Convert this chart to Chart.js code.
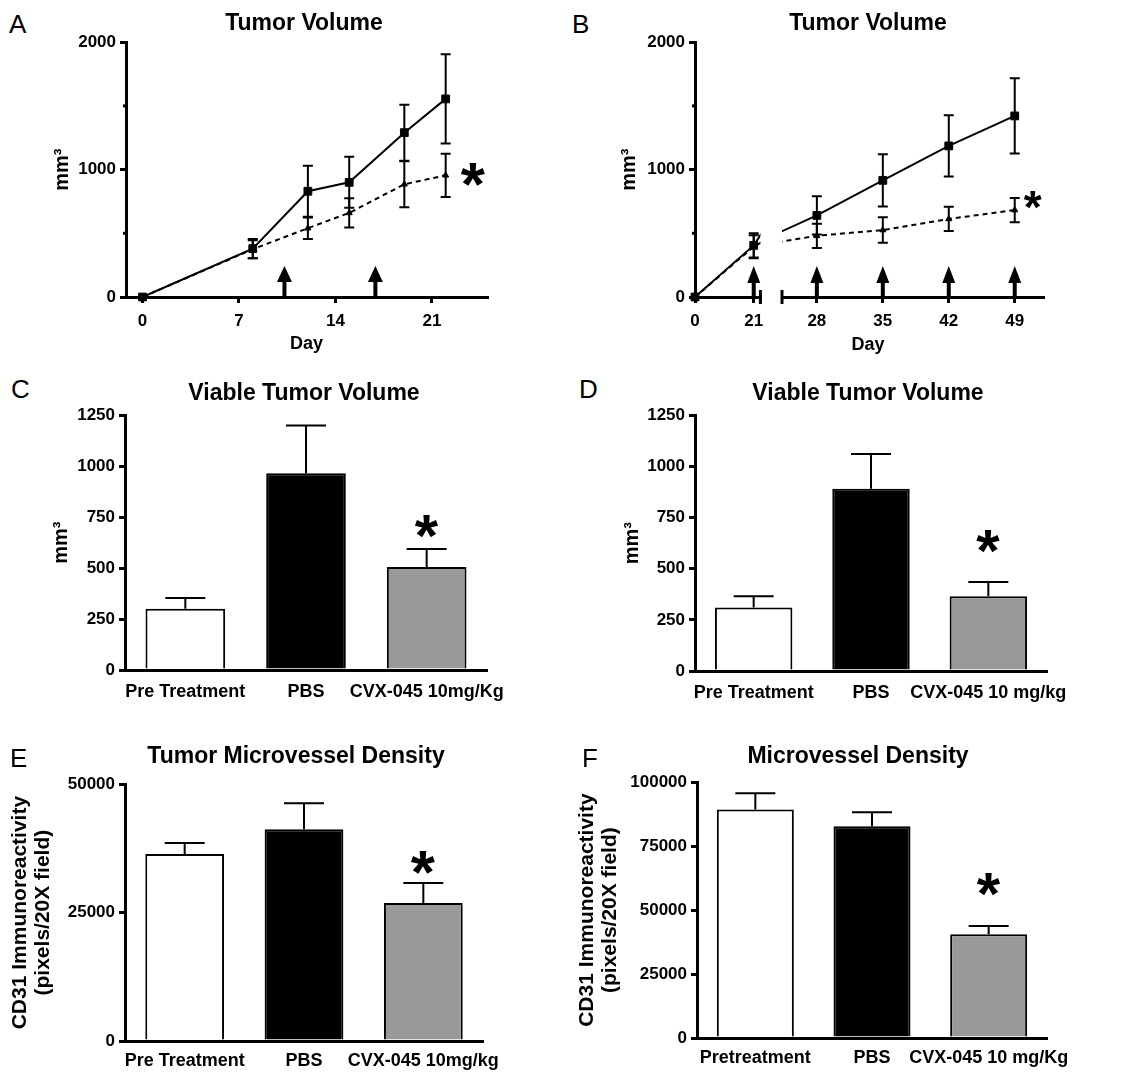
<!DOCTYPE html>
<html><head><meta charset="utf-8">
<script src="https://cdn.jsdelivr.net/npm/chart.js@4.4.0/dist/chart.umd.min.js"></script>
<style>
html,body{margin:0;padding:0;background:#fff;}
body{width:1135px;height:1074px;position:relative;overflow:hidden;font-family:'Liberation Sans',Arial,Helvetica,sans-serif;color:#000;}
canvas{position:absolute;}
.lbl{position:absolute;white-space:nowrap;line-height:1;color:#000;}
</style></head><body>
<script>
// ---------- Panel A : tumor volume ----------
const daysA = [0, 8, 12, 15, 19, 22];
const pbsA = [0, 380, 830, 900, 1290, 1555];
const pbsErrA = [0, 75, 200, 200, 220, 350];
const cvxA = [0, 375, 540, 660, 885, 955];
const cvxErrA = [0, 70, 85, 115, 180, 170];
const doseDaysA = [10.3, 16.9];
const xTicksA = [0, 7, 14, 21];
const starA = {x: 24, y: 965};
// ---------- Panel B : tumor volume (broken axis) ----------
const daysB = [0, 21, 28, 35, 42, 49];
const pbsB = [0, 405, 640, 915, 1185, 1420];
const pbsErrB = [0, 95, 150, 205, 240, 295];
const cvxB = [0, 395, 480, 525, 612, 682];
const cvxErrB = [0, 90, 95, 100, 95, 95];
const doseDaysB = [21, 28, 35, 42, 49];
const xTicksB1 = [0, 21];
const xTicksB2 = [28, 35, 42, 49];
const starB = {x: 50.9, y: 760};
// ---------- Panel C ----------
const groupsC = ['Pre Treatment', 'PBS', 'CVX-045 10mg/Kg'];
const valuesC = [300, 965, 505];
const errC = [53, 235, 88];
const starC = {x: 2, y: 706};
// ---------- Panel D ----------
const groupsD = ['Pre Treatment', 'PBS', 'CVX-045 10 mg/kg'];
const valuesD = [310, 890, 365];
const errD = [55, 170, 70];
const starD = {x: 2, y: 635};
// ---------- Panel E ----------
const groupsE = ['Pre Treatment', 'PBS', 'CVX-045 10mg/kg'];
const valuesE = [36400, 41250, 26850];
const errE = [2150, 5050, 3900];
const starE = {x: 2, y: 34800};
// ---------- Panel F ----------
const groupsF = ['Pretreatment', 'PBS', 'CVX-045 10 mg/Kg'];
const valuesF = [89300, 82800, 40600];
const errF = [6400, 5500, 3150];
const starF = {x: 2, y: 60200};

const barColors = ['#ffffff', '#000000', '#999999'];
const FONT = "'Liberation Sans', Arial, Helvetica, sans-serif";
Chart.defaults.font.family = FONT;
Chart.defaults.color = '#000';

// decoration plugin: error bars, dosing arrows, significance stars, minor ticks, axis break
const deco = {
  id: 'deco',
  afterDatasetsDraw(chart, args, o) {
    const ctx = chart.ctx, xs = chart.scales.x, ys = chart.scales.y, ca = chart.chartArea;
    ctx.save();
    ctx.strokeStyle = '#000'; ctx.fillStyle = '#000';
    if (o.errorBars) {
      ctx.lineWidth = 2;
      chart.data.datasets.forEach((ds, di) => {
        if (!ds.errors) return;
        const meta = chart.getDatasetMeta(di);
        ds.data.forEach((raw, i) => {
          const e = ds.errors[i]; if (!e) return;
          const isObj = typeof raw === 'object';
          const v = isObj ? raw.y : raw;
          if (isObj && (raw.x < xs.min || raw.x > xs.max)) return;
          const x = isObj ? xs.getPixelForValue(raw.x) : meta.data[i].x;
          const yHi = ys.getPixelForValue(v + e);
          const yLo = o.errorBars.upOnly ? ys.getPixelForValue(v) : ys.getPixelForValue(Math.max(v - e, 0));
          const c = o.errorBars.cap;
          ctx.beginPath();
          ctx.moveTo(x, yLo); ctx.lineTo(x, yHi);
          ctx.moveTo(x - c, yHi); ctx.lineTo(x + c, yHi);
          if (!o.errorBars.upOnly) { ctx.moveTo(x - c, yLo); ctx.lineTo(x + c, yLo); }
          ctx.stroke();
        });
      });
    }
    if (o.arrows) {
      const base = ys.getPixelForValue(0);
      const a = o.arrows;
      a.days.forEach(d => {
        if (d < xs.min || d > xs.max) return;
        const x = xs.getPixelForValue(d);
        ctx.fillRect(x - a.shaft / 2, base - (a.length - a.head) - 1, a.shaft, a.length - a.head + 1);
        ctx.beginPath();
        ctx.moveTo(x, base - a.length);
        ctx.lineTo(x - a.half, base - a.length + a.head);
        ctx.lineTo(x + a.half, base - a.length + a.head);
        ctx.closePath(); ctx.fill();
      });
    }
    if (o.minorTicks) {
      ctx.lineWidth = 3;
      o.minorTicks.forEach(v => {
        const y = ys.getPixelForValue(v);
        ctx.beginPath(); ctx.moveTo(ca.left - 3, y); ctx.lineTo(ca.left, y); ctx.stroke();
      });
    }
    if (o.axisBreak) {
      const x = o.axisBreak === 'right' ? ca.right : ca.left;
      ctx.lineWidth = 3;
      ctx.beginPath(); ctx.moveTo(x, ca.bottom - 7); ctx.lineTo(x, ca.bottom + 7); ctx.stroke();
    }
    if (o.star) {
      const s = o.star;
      ctx.font = 'bold ' + s.size + 'px ' + FONT;
      ctx.textAlign = 'left'; ctx.textBaseline = 'alphabetic';
      const m = ctx.measureText('*');
      const cx = xs.getPixelForValue(s.x), cy = ys.getPixelForValue(s.y);
      const x0 = cx - (m.actualBoundingBoxRight - m.actualBoundingBoxLeft) / 2;
      const y0 = cy + (m.actualBoundingBoxAscent - m.actualBoundingBoxDescent) / 2;
      ctx.fillText('*', x0, y0);
    }
    ctx.restore();
  }
};
Chart.register(deco);

function makeChart(box, plot, config, hideY) {
  const c = document.createElement('canvas');
  const w = box.right - box.left, h = box.bottom - box.top;
  c.width = w; c.height = h;
  c.style.left = box.left + 'px'; c.style.top = box.top + 'px';
  c.style.width = w + 'px'; c.style.height = h + 'px';
  document.body.appendChild(c);
  const o = config.options;
  o.responsive = false; o.animation = false; o.events = []; o.devicePixelRatio = 1;
  o.layout = {padding: {top: plot.top - box.top, right: box.right - plot.right, bottom: 0, left: hideY ? plot.left - box.left : 0}};
  o.scales.x.afterFit = s => { s.height = box.bottom - plot.bottom; };
  if (!hideY) o.scales.y.afterFit = s => { s.width = plot.left - box.left; };
  o.plugins = Object.assign({legend: {display: false}, tooltip: {enabled: false}}, o.plugins);
  return new Chart(c, config);
}

function border() { return {display: true, color: '#000', width: 3}; }

function yAxis(min, max, step, title, titleSize, lh) {
  return {
    min: min, max: max, z: 1,
    border: border(),
    grid: {drawOnChartArea: false, drawTicks: true, tickLength: 6, color: '#000', lineWidth: 3},
    ticks: {stepSize: step, padding: 4, color: '#000', font: {size: 17, weight: 'bold'}, callback: v => String(v)},
    title: {display: !!title, text: title, color: '#000', font: {size: titleSize, weight: 'bold', lineHeight: lh}, padding: 0}
  };
}
function xLinear(min, max, ticks, title) {
  return {
    type: 'linear', min: min, max: max, z: 1,
    border: border(),
    grid: {drawOnChartArea: false, drawTicks: true, tickLength: 6, color: '#000', lineWidth: 3},
    ticks: {padding: 8, color: '#000', font: {size: 17, weight: 'bold'}, callback: v => String(v), maxRotation: 0},
    afterBuildTicks: s => { s.ticks = ticks.map(v => ({value: v})); },
    title: {display: !!title, text: title || '', color: '#000', font: {size: 18, weight: 'bold'}, padding: 0}
  };
}
function xCat(pad) {
  return {
    z: 1, border: border(), grid: {display: false, drawTicks: false, tickLength: 0},
    ticks: {padding: pad, color: '#000', font: {size: 18, weight: 'bold'}, maxRotation: 0, minRotation: 0, autoSkip: false}
  };
}
function lineSet(days, vals, errs, dashed, clip) {
  return {
    data: days.map((d, i) => ({x: d, y: vals[i]})),
    errors: errs,
    borderColor: '#000', backgroundColor: '#000', borderWidth: 2,
    borderDash: dashed ? [5, 4] : [],
    pointStyle: dashed ? 'triangle' : 'rect',
    pointRadius: dashed ? 3.5 : 5.5,
    pointBackgroundColor: '#000', pointBorderColor: '#000', pointBorderWidth: 1,
    tension: 0, clip: clip
  };
}
function barSet(vals, errs) {
  return {
    data: vals, errors: errs,
    backgroundColor: barColors, borderColor: '#000', borderWidth: 2,
    barPercentage: 0.66, categoryPercentage: 1
  };
}

// Panel A
makeChart({left: 50, top: 28, right: 537, bottom: 355}, {left: 126, top: 42, right: 487, bottom: 297}, {
  type: 'line',
  data: {datasets: [lineSet(daysA, pbsA, pbsErrA, false, false), lineSet(daysA, cvxA, cvxErrA, true, false)]},
  options: {
    plugins: {deco: {errorBars: {cap: 5}, arrows: {days: doseDaysA, shaft: 4, head: 16, half: 7.5, length: 31}, minorTicks: [500, 1500], star: {x: starA.x, y: starA.y, size: 62}}},
    scales: {x: xLinear(-1.2, 25, xTicksA, 'Day'), y: yAxis(0, 2000, 1000, 'mm³', 20, 1.2)}
  }
});

// Panel B (left segment)
makeChart({left: 617, top: 28, right: 772, bottom: 337}, {left: 695, top: 42, right: 764, bottom: 297}, {
  type: 'line',
  data: {datasets: [lineSet(daysB, pbsB, pbsErrB, false, {left: 10, top: 0, right: 0, bottom: 10}), lineSet(daysB, cvxB, cvxErrB, true, {left: 10, top: 0, right: 0, bottom: 10})]},
  options: {
    plugins: {deco: {errorBars: {cap: 5}, arrows: {days: doseDaysB, shaft: 4, head: 17, half: 6.5, length: 31}, minorTicks: [500, 1500], axisBreak: 'right'}},
    scales: {x: xLinear(0, 23.4, xTicksB1, ''), y: yAxis(0, 2000, 1000, 'mm³', 20, 1.2)}
  }
});
// Panel B (right segment)
const yB2 = yAxis(0, 2000, 1000, '', 20, 1.2); yB2.display = false;
makeChart({left: 772, top: 28, right: 1090, bottom: 337}, {left: 782, top: 42, right: 1043, bottom: 297}, {
  type: 'line',
  data: {datasets: [lineSet(daysB, pbsB, pbsErrB, false, {left: 0, top: 0, right: 10, bottom: 0}), lineSet(daysB, cvxB, cvxErrB, true, {left: 0, top: 0, right: 10, bottom: 0})]},
  options: {
    plugins: {deco: {errorBars: {cap: 5}, arrows: {days: doseDaysB, shaft: 4, head: 17, half: 6.5, length: 31}, axisBreak: 'left', star: {x: starB.x, y: starB.y, size: 46}}},
    scales: {x: xLinear(24.3, 52, xTicksB2, ''), y: yB2}
  }
}, true);

// Panel C
makeChart({left: 49, top: 401, right: 527, bottom: 710}, {left: 125, top: 415, right: 487, bottom: 670}, {
  type: 'bar',
  data: {labels: groupsC, datasets: [barSet(valuesC, errC)]},
  options: {
    plugins: {deco: {errorBars: {cap: 20, upOnly: true}, star: {x: starC.x, y: starC.y, size: 60}}},
    scales: {x: xCat(11), y: yAxis(0, 1250, 250, 'mm³', 20, 1.2)}
  }
});
// Panel D
makeChart({left: 620, top: 401, right: 1090, bottom: 711}, {left: 695, top: 415, right: 1047, bottom: 671}, {
  type: 'bar',
  data: {labels: groupsD, datasets: [barSet(valuesD, errD)]},
  options: {
    plugins: {deco: {errorBars: {cap: 20, upOnly: true}, star: {x: starD.x, y: starD.y, size: 60}}},
    scales: {x: xCat(11), y: yAxis(0, 1250, 250, 'mm³', 20, 1.2)}
  }
});
// Panel E
makeChart({left: 9, top: 770, right: 523, bottom: 1074}, {left: 125, top: 784, right: 483, bottom: 1041}, {
  type: 'bar',
  data: {labels: groupsE, datasets: [barSet(valuesE, errE)]},
  options: {
    plugins: {deco: {errorBars: {cap: 20, upOnly: true}, star: {x: starE.x, y: starE.y, size: 62}}},
    scales: {x: xCat(9), y: yAxis(0, 50000, 25000, ['CD31 Immunoreactivity', '(pixels/20X field)'], 21, 1.1)}
  }
});
// Panel F
makeChart({left: 576, top: 768, right: 1090, bottom: 1074}, {left: 697, top: 782, right: 1047, bottom: 1038}, {
  type: 'bar',
  data: {labels: groupsF, datasets: [barSet(valuesF, errF)]},
  options: {
    plugins: {deco: {errorBars: {cap: 20, upOnly: true}, star: {x: starF.x, y: starF.y, size: 60}}},
    scales: {x: xCat(9), y: yAxis(0, 100000, 25000, ['CD31 Immunoreactivity', '(pixels/20X field)'], 21, 1.1)}
  }
});

// text overlays
function addText(txt, x, y, size, bold, center) {
  const d = document.createElement('div');
  d.className = 'lbl';
  d.textContent = txt;
  d.style.left = x + 'px'; d.style.top = y + 'px';
  d.style.fontSize = size + 'px';
  d.style.fontWeight = bold ? 'bold' : 'normal';
  d.style.transform = center ? 'translate(-50%,-50%)' : 'translate(0,-50%)';
  document.body.appendChild(d);
}
addText('A', 9, 24, 26, false, false);
addText('B', 572, 24, 26, false, false);
addText('C', 11, 389, 26, false, false);
addText('D', 579, 389, 26, false, false);
addText('E', 10, 758, 26, false, false);
addText('F', 582, 758, 26, false, false);
addText('Tumor Volume', 304, 22, 23, true, true);
addText('Tumor Volume', 868, 22, 23, true, true);
addText('Viable Tumor Volume', 304, 392, 23, true, true);
addText('Viable Tumor Volume', 868, 392, 23, true, true);
addText('Tumor Microvessel Density', 296, 755, 23, true, true);
addText('Microvessel Density', 858, 755, 23, true, true);
addText('Day', 868, 344, 18, true, true);
</script>
</body></html>
